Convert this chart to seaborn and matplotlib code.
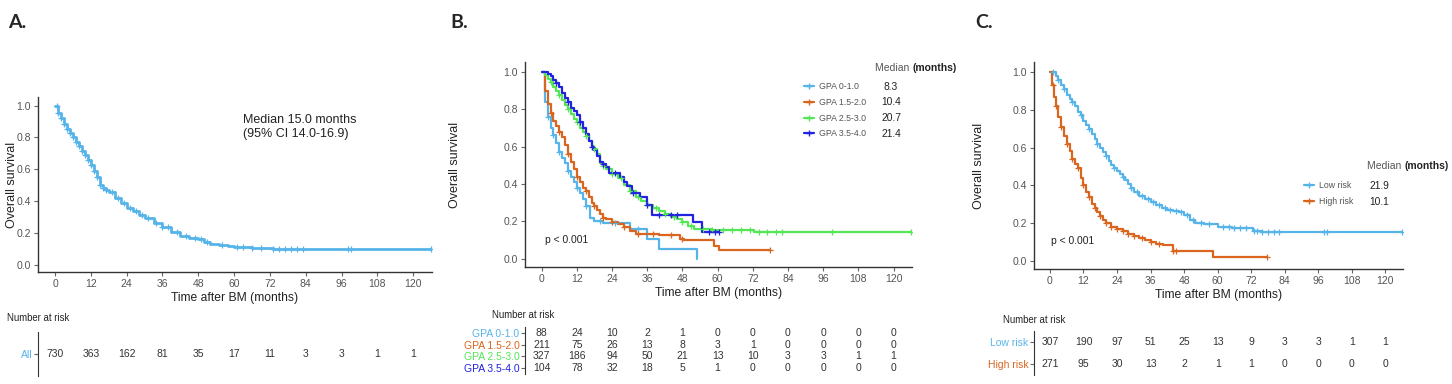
import numpy as np
import pandas as pd
import matplotlib
matplotlib.use("Agg")
import matplotlib.pyplot as plt
import seaborn as sns
from matplotlib.lines import Line2D

# ---------------- data ----------------
time_ticks = [0, 12, 24, 36, 48, 60, 72, 84, 96, 108, 120]

# A. whole cohort
time_a = [0, 1, 2, 3, 4, 5, 6, 7, 8, 9, 10, 11, 12, 13, 14, 15, 16, 17, 18, 20, 22, 24,
          26, 28, 30, 33, 36, 39, 42, 45, 48, 50, 52, 55, 58, 60, 66, 73, 126]
surv_a = [1.0, 0.955, 0.92, 0.885, 0.855, 0.83, 0.80, 0.77, 0.745, 0.715, 0.69, 0.66, 0.63,
          0.59, 0.55, 0.50, 0.485, 0.47, 0.455, 0.42, 0.39, 0.36, 0.34, 0.315, 0.295, 0.265,
          0.235, 0.205, 0.18, 0.17, 0.16, 0.145, 0.13, 0.125, 0.12, 0.11, 0.105, 0.10, 0.10]
cens_a = [0.5, 1, 2, 3, 4, 5, 6, 7, 8, 9, 10, 11, 12, 13, 14, 15, 16, 17, 19, 21, 23, 25,
          27, 29, 31, 34, 36, 38, 41, 44, 47, 49, 51, 56, 61, 63, 66, 69, 73, 75, 77, 79,
          81, 83, 98, 99, 126]
risk_a = [730, 363, 162, 81, 35, 17, 11, 3, 3, 1, 1]

# B. GPA groups
gpa_labels = ["GPA 0-1.0", "GPA 1.5-2.0", "GPA 2.5-3.0", "GPA 3.5-4.0"]
gpa_medians = ["8.3", "10.4", "20.7", "21.4"]
gpa_colors = ["#56B4E9", "#D9651E", "#55E655", "#2222E0"]

time_g1 = [0, 1, 2, 3, 4, 5, 6, 7, 8, 9, 10, 11, 12, 13, 14, 15, 16.5, 18, 21, 30, 36, 40, 52.9]
surv_g1 = [1.0, 0.84, 0.76, 0.70, 0.66, 0.62, 0.57, 0.54, 0.51, 0.47, 0.44, 0.41, 0.38, 0.35,
           0.32, 0.28, 0.22, 0.20, 0.19, 0.16, 0.107, 0.054, 0.0]
cens_g1 = [2, 4, 6, 9, 12, 15, 20, 25, 33]

time_g2 = [0, 1, 2, 3, 4, 5, 6, 7, 8, 9, 10, 11, 12, 13, 14, 15, 16, 17, 18, 19, 20, 21, 22,
           24, 26, 28, 30, 32, 40, 47, 48.5, 58.6, 60.3, 77.9]
surv_g2 = [1.0, 0.90, 0.83, 0.78, 0.74, 0.71, 0.68, 0.65, 0.61, 0.56, 0.52, 0.48, 0.44, 0.41,
           0.38, 0.36, 0.33, 0.30, 0.28, 0.26, 0.24, 0.22, 0.21,
           0.196, 0.185, 0.17, 0.15, 0.134, 0.125, 0.107, 0.10, 0.07, 0.045, 0.045]
cens_g2 = [3, 6, 9, 12, 15, 18, 21, 24, 28, 33, 38, 44, 48, 77.9]

time_g3 = [0, 1, 2, 3, 4, 5, 6, 7, 8, 9, 10, 11, 12, 13, 14, 15, 16, 17, 18, 19, 20, 21, 22,
           24, 26, 28, 30, 32, 34, 36, 38, 40, 42, 44, 46, 48, 50, 52, 58, 72.5, 126]
surv_g3 = [1.0, 0.985, 0.965, 0.945, 0.92, 0.90, 0.875, 0.85, 0.825, 0.80, 0.775, 0.75, 0.73,
           0.70, 0.68, 0.655, 0.63, 0.605, 0.585, 0.56, 0.515, 0.495, 0.48,
           0.455, 0.43, 0.395, 0.36, 0.33, 0.31, 0.29, 0.27, 0.255, 0.24, 0.225, 0.21, 0.195,
           0.175, 0.16, 0.155, 0.14, 0.14]
cens_g3 = [3, 6, 9, 12, 15, 18, 21, 24, 27, 30, 33, 36, 39, 42, 45, 48, 51, 55, 58, 62, 65,
           68, 71, 74, 77, 80, 82, 99, 126]

time_g4 = [0, 2, 3, 4, 5, 6, 7, 8, 9, 10, 11, 12, 13, 14, 15, 16, 17, 18, 19, 20, 21, 22, 23,
           26.7, 28, 29, 30.7, 33.6, 35.8, 37.5, 51.7, 54.8, 60.5]
surv_g4 = [1.0, 0.99, 0.98, 0.96, 0.94, 0.92, 0.89, 0.86, 0.84, 0.81, 0.79, 0.77, 0.73, 0.70,
           0.67, 0.63, 0.60, 0.58, 0.55, 0.52, 0.505, 0.49, 0.46,
           0.44, 0.41, 0.39, 0.35, 0.33, 0.29, 0.235, 0.196, 0.14, 0.14]
cens_g4 = [5, 9, 13, 17, 21, 25, 31, 36, 40, 44, 46, 57, 59, 60.5]

risk_gpa = [[88, 24, 10, 2, 1, 0, 0, 0, 0, 0, 0],
            [211, 75, 26, 13, 8, 3, 1, 0, 0, 0, 0],
            [327, 186, 94, 50, 21, 13, 10, 3, 3, 1, 1],
            [104, 78, 32, 18, 5, 1, 0, 0, 0, 0, 0]]

# C. risk groups
risk_labels = ["Low risk", "High risk"]
risk_medians = ["21.9", "10.1"]
risk_colors = ["#56B4E9", "#D9651E"]

time_low = [0, 2, 3, 4, 5, 6, 7, 8, 9, 10, 11, 12, 13, 14, 15, 16, 17, 18, 19, 20, 21, 22,
            23, 24, 25, 26, 27, 28, 29, 30, 32, 34, 36, 38, 40, 42, 44, 46, 48, 50, 52,
            55, 60, 65, 72.5, 76, 126]
surv_low = [1.0, 0.98, 0.96, 0.93, 0.91, 0.88, 0.86, 0.84, 0.82, 0.79, 0.77, 0.74, 0.72,
            0.70, 0.67, 0.645, 0.62, 0.60, 0.575, 0.555, 0.53, 0.505, 0.49, 0.475, 0.46,
            0.445, 0.425, 0.405, 0.385, 0.365, 0.34, 0.325, 0.31, 0.295, 0.28, 0.27, 0.265,
            0.255, 0.24, 0.215, 0.20, 0.195, 0.18, 0.173, 0.159, 0.154, 0.154]
cens_low = [1, 3, 5, 8, 11, 14, 17, 20, 23, 26, 29, 31, 33, 35, 37, 39, 41, 43, 45, 47, 49,
            51, 54, 57, 62, 64, 66, 68, 70, 73, 74, 76, 78, 80, 82, 98, 99, 126]

time_high = [0, 0.8, 1.4, 2, 3, 4, 5, 6, 7, 8, 9, 10, 11, 12, 13, 14, 15, 16, 17, 18, 19, 20,
             22, 24, 26, 28, 30, 32, 34, 36, 38, 40.6, 44.2, 58.5, 77.5]
surv_high = [1.0, 0.93, 0.87, 0.82, 0.76, 0.71, 0.66, 0.62, 0.58, 0.54, 0.51, 0.49, 0.44,
             0.40, 0.365, 0.335, 0.30, 0.28, 0.26, 0.235, 0.215, 0.20, 0.18, 0.168, 0.155,
             0.142, 0.13, 0.12, 0.11, 0.097, 0.09, 0.08, 0.053, 0.021, 0.021]
cens_high = [1, 2, 4, 6, 8, 10, 12, 14, 16, 18, 20, 22, 24, 26, 28, 30, 33, 36, 39, 44.2,
             45, 77.5]

risk_grp = [[307, 190, 97, 51, 25, 13, 9, 3, 3, 1, 1],
            [271, 95, 30, 13, 2, 1, 1, 0, 0, 0, 0]]

# ---------------- figure ----------------
W, H = 1452, 384
sns.set_style("ticks")
plt.rcParams["font.family"] = ["Liberation Sans", "DejaVu Sans"]

TXT = "#222222"
TICK = "#555555"
XLIM = (-5.7, 126.3)
YLIM = (-0.045, 1.054)

fig = plt.figure(figsize=(W / 100, H / 100), dpi=100)


def px_axes(left, top, right, bottom):
    return fig.add_axes([left / W, 1 - bottom / H, (right - left) / W, (bottom - top) / H])


def km(ax, t, s, cens, color, lw=1.6):
    df = pd.DataFrame({"t": t, "s": s})
    sns.lineplot(data=df, x="t", y="s", ax=ax, color=color, lw=lw,
                 drawstyle="steps-post", estimator=None, errorbar=None, zorder=3)
    t = np.asarray(t)
    s = np.asarray(s)
    cy = s[np.searchsorted(t, cens, side="right") - 1]
    sns.scatterplot(x=cens, y=cy, ax=ax, marker="+", color=color, s=22,
                    linewidth=0.9, zorder=4)


def style_main(ax, ypad):
    ax.set_xlim(*XLIM)
    ax.set_ylim(*YLIM)
    ax.set_xticks(time_ticks)
    ax.set_yticks([0, 0.2, 0.4, 0.6, 0.8, 1.0])
    ax.set_yticklabels(["0.0", "0.2", "0.4", "0.6", "0.8", "1.0"])
    sns.despine(ax=ax)
    for sp in ["left", "bottom"]:
        ax.spines[sp].set_color("#333333")
        ax.spines[sp].set_linewidth(1.0)
    ax.tick_params(axis="both", length=3, width=0.8, color="#666666",
                   labelsize=7.5, labelcolor=TICK, pad=2)
    ax.set_xlabel("Time after BM (months)", fontsize=8.7, color=TXT, labelpad=2)
    ax.set_ylabel("Overall survival", fontsize=9, color=TXT, labelpad=ypad)


def risk_table(left, top, right, bottom, labels, colors, counts):
    rax = px_axes(left, top, right, bottom)
    n = len(labels)
    rax.set_xlim(*XLIM)
    rax.set_ylim(n - 0.5, -0.5)
    for i, row in enumerate(counts):
        for x, c in zip(time_ticks, row):
            rax.text(x, i, str(c), ha="center", va="center", fontsize=7.5, color="#333333")
    rax.set_xticks([])
    rax.set_yticks(range(n))
    rax.set_yticklabels(labels)
    for lab, c in zip(rax.get_yticklabels(), colors):
        lab.set_color(c)
    rax.tick_params(axis="y", length=3, width=0.8, color="#666666", labelsize=7.5, pad=1)
    for sp in ["top", "right", "bottom"]:
        rax.spines[sp].set_visible(False)
    rax.spines["left"].set_color("#333333")
    rax.patch.set_alpha(0)
    return rax


def add_legend(ax, labels, colors, medians, x, y, vx, vsize, tx, ty, lsize, spacing):
    handles = [Line2D([], [], color=c, lw=1.6, marker="+", markersize=5) for c in colors]
    leg = ax.legend(handles, labels, loc="upper left", bbox_to_anchor=(x / W, 1 - y / H),
                    bbox_transform=fig.transFigure, frameon=False, fontsize=lsize,
                    handlelength=1.1, handletextpad=0.6, labelspacing=spacing,
                    borderpad=0, borderaxespad=0)
    for t in leg.get_texts():
        t.set_color(TICK)
    fig.canvas.draw()
    for t, m in zip(leg.get_texts(), medians):
        bb = t.get_window_extent()
        fig.text(vx / W, (bb.y0 + bb.y1) / 2 / H, m, fontsize=vsize, color=TXT,
                 ha="center", va="center")
    t1 = fig.text(tx / W, 1 - ty / H, "Median ", fontsize=7.5, color=TICK, va="center")
    ax.annotate("(months)", xy=(1, 0.5), xycoords=t1, va="center", ha="left",
                fontsize=7.5, fontweight="bold", color=TXT)


# ----- panel A -----
axA = px_axes(38, 97, 432, 272)
km(axA, time_a, surv_a, cens_a, "#56B4E9", lw=2.0)
style_main(axA, -1)
fig.text(243 / W, 1 - 114 / H, "Median 15.0 months\n(95% CI 14.0-16.9)", fontsize=9,
         color=TXT, va="top", ha="left", linespacing=1.2)
fig.text(8 / W, 1 - 23 / H, "A.", fontsize=14, fontweight="bold",
         family=["Lato", "DejaVu Sans"], va="center")
fig.text(7 / W, 1 - 318 / H, "Number at risk", fontsize=6.9, color=TXT, va="center")
risk_table(38, 332, 432, 376, ["All"], ["#56B4E9"], [risk_a])

# ----- panel B -----
axB = px_axes(525, 62, 912, 267)
gpa_series = [(time_g1, surv_g1, cens_g1), (time_g2, surv_g2, cens_g2),
              (time_g3, surv_g3, cens_g3), (time_g4, surv_g4, cens_g4)]
for (t, s, c), col in zip(gpa_series, gpa_colors):
    km(axB, t, s, c, col)
style_main(axB, 31)
axB.text(1.0, 0.10, "p < 0.001", fontsize=7.4, color=TXT, va="center")
fig.text(450 / W, 1 - 23 / H, "B.", fontsize=14, fontweight="bold",
         family=["Lato", "DejaVu Sans"], va="center")
fig.text(492 / W, 1 - 315 / H, "Number at risk", fontsize=6.9, color=TXT, va="center")
risk_table(525, 327, 912, 374, gpa_labels, gpa_colors, risk_gpa)

# ----- panel C -----
axC = px_axes(1034, 62, 1403, 269)
for (t, s, c), col in zip([(time_low, surv_low, cens_low), (time_high, surv_high, cens_high)],
                          risk_colors):
    km(axC, t, s, c, col)
style_main(axC, 19.5)
axC.text(0.5, 0.105, "p < 0.001", fontsize=7.4, color=TXT, va="center")
fig.text(975 / W, 1 - 23 / H, "C.", fontsize=14, fontweight="bold",
         family=["Lato", "DejaVu Sans"], va="center")
fig.text(1003 / W, 1 - 320 / H, "Number at risk", fontsize=6.9, color=TXT, va="center")
risk_table(1034, 331, 1403, 375, risk_labels, risk_colors, risk_grp)

# ----- legends with medians -----
add_legend(axB, gpa_labels, gpa_colors, gpa_medians, 804, 82, 891, 7.4, 875, 68, 6.3, 0.78)
add_legend(axC, risk_labels, risk_colors, risk_medians, 1304, 181, 1379, 7.4, 1367, 166, 6.3, 0.85)

fig.savefig("out.png", dpi=100)
